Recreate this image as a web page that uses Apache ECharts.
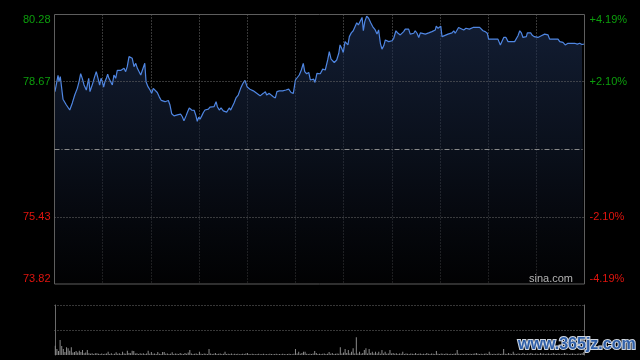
<!DOCTYPE html>
<html><head><meta charset="utf-8">
<style>html,body{margin:0;padding:0;background:#000;}#c{width:640px;height:360px;}</style>
<script src="https://cdn.jsdelivr.net/npm/echarts@6/dist/echarts.min.js"></script>
</head><body><div id="c"></div>
<script>
// ---- data ----
const prevClose = 77.05;
const priceMin = 73.82, priceMax = 80.28;
const priceTicks = [73.82, 75.43, 78.67, 80.28];
const pctMin = -4.19, pctMax = 4.19;
const pctTicks = [-4.19, -2.10, 2.10, 4.19];
const sessionMinutes = 330; // 09:30-12:00, 13:00-16:00

// minutes since open (compressed trading time)
const times = [
0.3,1.4,2.2,2.8,3.6,4.2,5.3,6.4,7.4,8.6,9.5,11.1,12.6,14.2,15.3,16.3,17.3,18.4,19.8,20.4,21.3,22.1,22.9,23.8,25.0,26.0,27.1,28.1,29.0,29.8,30.6,31.4,32.3,33.1,33.9,35.0,36.0,37.0,38.1,39.1,41.2,42.2,43.3,44.3,45.3,46.4,47.4,48.4,49.5,50.6,51.6,52.6,53.7,54.7,56.2,57.0,58.2,59.5,60.5,61.5,62.6,64.0,65.3,66.5,
67.7,68.8,69.9,70.9,71.9,73.0,74.4,75.5,77.1,78.6,79.6,80.6,81.9,82.9,83.9,85.4,87.0,88.1,88.9,89.8,90.6,91.7,92.7,93.7,94.8,95.8,96.8,97.9,99.3,100.6,101.4,102.6,103.7,105.1,106.2,107.2,108.2,108.8,109.7,110.7,111.8,113.0,114.4,115.9,117.2,118.6,119.2,120.0,121.7,123.8,125.9,128.0,129.2,130.0,131.3,132.1,
133.7,134.8,136.2,137.5,138.5,140.0,142.1,144.1,145.8,147.3,148.7,149.6,150.0,150.8,152.4,153.7,154.9,155.8,157.0,158.3,159.3,160.3,161.4,162.2,163.4,164.5,165.5,167.0,168.6,170.1,171.1,172.2,173.2,174.2,175.7,177.0,177.8,178.8,179.8,180.9,181.9,182.7,183.6,184.8,186.0,186.9,188.2,189.2,190.2,191.5,192.3,193.2,194.4,195.6,196.9,198.1,
199.7,200.8,201.8,202.9,203.9,205.0,206.0,207.0,208.1,209.1,210.1,211.2,212.6,213.9,215.3,216.4,217.4,218.4,219.5,220.5,221.5,222.6,223.7,224.6,225.7,226.8,227.8,228.8,230.9,233.0,235.0,236.1,237.1,237.7,238.8,239.6,240.5,241.3,242.3,245.0,247.5,248.6,249.5,250.6,251.6,252.7,254.8,256.2,257.3,258.3,259.3,260.6,261.6,263.1,
264.7,265.7,266.8,268.2,269.5,270.3,276.1,276.8,277.6,278.6,279.7,281.1,282.4,284.4,285.5,286.5,287.5,288.6,289.7,290.7,291.7,292.8,293.8,294.4,295.4,296.5,297.3,298.6,301.0,302.1,303.1,304.2,305.2,306.2,307.3,308.3,313.5,314.6,316.6,318.0,319.7,320.8,321.8,322.8,323.9,325.5,327.0,328.4,329.6
];
const prices = [
78.43,78.39,78.82,78.67,78.79,78.83,78.25,78.22,78.11,78.07,77.99,78.16,78.35,78.51,78.67,78.86,78.75,78.59,78.47,78.43,78.75,78.43,78.39,78.63,78.79,78.91,78.75,78.59,78.75,78.67,78.54,78.67,78.75,78.85,78.75,78.71,78.59,78.83,78.75,78.94,78.94,78.95,78.99,78.91,79.03,79.27,79.23,79.23,79.03,79.11,78.99,79.03,78.83,78.87,79.11,78.67,78.55,78.47,78.39,78.51,78.54,78.41,78.30,78.22,
78.25,78.19,78.23,78.22,78.11,77.90,77.85,77.89,77.88,77.89,77.83,77.73,77.85,77.95,78.04,77.99,77.98,77.85,77.72,77.82,77.77,77.85,77.93,77.99,78.01,78.01,78.06,78.07,78.07,78.19,78.07,77.99,78.04,77.97,77.94,77.94,77.95,78.04,77.99,78.01,78.16,78.28,78.35,78.51,78.62,78.70,78.67,78.54,78.49,78.45,78.39,78.33,78.30,78.39,78.43,78.35,
78.39,78.35,78.31,78.28,78.43,78.45,78.45,78.47,78.49,78.41,78.39,78.39,78.71,78.75,78.83,78.95,79.11,78.91,78.86,78.89,78.71,78.70,78.73,78.65,78.87,78.89,78.86,78.97,78.95,79.19,79.39,79.21,79.17,79.13,79.19,79.35,79.55,79.47,79.37,79.63,79.59,79.55,79.75,79.84,79.89,79.93,80.08,80.03,79.99,80.21,79.89,80.11,80.24,80.19,80.08,79.99,
79.91,79.81,79.91,79.59,79.45,79.53,79.67,79.69,79.63,79.59,79.65,79.71,79.89,79.83,79.79,79.75,79.87,79.93,79.89,79.93,79.81,79.79,79.83,79.89,79.83,79.73,79.84,79.81,79.81,79.84,79.87,79.89,79.91,80.00,79.95,79.99,80.00,79.75,79.79,79.81,79.84,79.89,79.83,79.87,79.97,79.95,79.91,79.95,79.99,79.93,79.91,79.97,79.95,79.97,
79.97,79.93,79.89,79.87,79.83,79.69,79.69,79.65,79.55,79.55,79.73,79.73,79.63,79.63,79.67,79.63,79.67,79.77,79.89,79.84,79.73,79.73,79.75,79.84,79.81,79.84,79.79,79.75,79.73,79.69,79.77,79.79,79.81,79.84,79.79,79.69,79.69,79.63,79.61,79.55,79.59,79.55,79.59,79.55,79.59,79.57,79.59,79.56,79.57
];
// per-minute volume (index = minute since open)
const volumes = [
93,60,40,150,90,60,30,77,67,43,
77,25,30,40,25,43,30,50,17,25,
50,17,12,17,10,17,17,12,10,15,
10,12,15,33,10,17,8,12,27,12,
17,10,33,15,12,43,20,17,43,40,
15,17,10,17,12,17,10,15,43,12,
30,12,15,10,30,12,10,30,30,12,
15,10,12,27,10,15,12,10,20,12,
10,20,12,25,50,15,10,12,15,10,
33,12,10,15,12,10,60,15,10,12,
20,10,12,15,10,12,33,10,12,10,
15,8,12,10,12,8,10,12,10,15,
20,10,8,12,10,8,10,12,8,10,
12,8,10,8,12,10,8,10,12,8,
10,8,12,10,8,10,12,10,8,12,
60,15,33,12,20,33,33,12,10,12,
10,15,40,20,10,12,10,12,15,10,
12,30,12,20,10,12,15,12,77,15,
25,60,20,50,15,33,67,15,177,15,
33,12,20,50,67,15,60,20,33,15,
33,15,33,12,50,15,33,12,15,50,
15,20,12,17,10,15,12,33,10,15,
12,10,15,12,10,20,10,12,15,10,
12,10,20,12,10,15,12,10,40,12,
10,15,12,10,15,12,10,12,10,12,
15,50,12,10,12,10,12,15,10,12,
10,12,15,20,12,10,12,10,12,15,
10,33,12,10,12,10,12,15,10,12,
60,12,10,20,12,10,33,12,10,15,
12,10,20,12,10,15,12,20,12,10,
15,12,10,20,12,15,10,12,15,10,
12,20,12,10,15,12,10,12,20,15,
12,10,12,15,12,10,12,15,12,20,
30
];
const volMax = 500;

// ---- chart ----
const FONT = 'Liberation Sans, Arial, sans-serif';
const GREEN = '#0c9e0c', RED = '#e0140e';
const dotted = [1, 2];
const priceData = times.map((t, i) => [t, prices[i]]);
const volData = volumes.map((v, i) => [i, v]);

const chart = echarts.init(document.getElementById('c'), null, {renderer: 'canvas'});
chart.setOption({
  backgroundColor: '#000',
  animation: false,
  grid: [
    {left: 54.5, top: 14.5, width: 530, height: 269.5, show: true, borderColor: '#5e5e5e', borderWidth: 1, backgroundColor: 'transparent', z: 4},
    {left: 54.5, top: 305, width: 530, height: 50}
  ],
  xAxis: [
    {type: 'value', gridIndex: 0, min: 0, max: sessionMinutes, interval: 30, z: 1,
     axisLine: {show: false}, axisTick: {show: false}, axisLabel: {show: false},
     splitLine: {show: true, showMinLine: false, showMaxLine: false, lineStyle: {color: '#6e6e6e', width: 1, type: dotted}}},
    {type: 'value', gridIndex: 1, min: -0.5, max: sessionMinutes + 0.5,
     axisLine: {show: false}, axisTick: {show: false}, axisLabel: {show: false}, splitLine: {show: false}}
  ],
  yAxis: [
    {type: 'value', gridIndex: 0, min: priceMin, max: priceMax, position: 'left',
     axisLine: {show: false}, axisTick: {show: false}, splitLine: {show: false},
     axisLabel: {show: true, customValues: priceTicks, margin: 4, fontSize: 11, fontFamily: FONT,
       verticalAlignMinLabel: 'bottom', verticalAlignMaxLabel: 'top',
       formatter: v => Number(v).toFixed(2),
       color: v => (Number(v) > prevClose ? GREEN : RED)}},
    {type: 'value', gridIndex: 0, min: pctMin, max: pctMax, position: 'right',
     axisLine: {show: false}, axisTick: {show: false}, splitLine: {show: false},
     axisLabel: {show: true, customValues: pctTicks, margin: 5, fontSize: 11, fontFamily: FONT,
       verticalAlignMinLabel: 'bottom', verticalAlignMaxLabel: 'top',
       formatter: v => (Number(v) > 0 ? '+' : '') + Number(v).toFixed(2) + '%',
       color: v => (Number(v) > 0 ? GREEN : RED)}},
    {type: 'value', gridIndex: 1, min: 0, max: volMax, interval: volMax / 2, position: 'left',
     axisLine: {show: true, lineStyle: {color: '#6a6a6a', width: 1}}, axisTick: {show: false}, axisLabel: {show: false},
     splitLine: {show: true, showMinLine: false, lineStyle: {color: '#6e6e6e', width: 1, type: dotted}}},
    {type: 'value', gridIndex: 1, min: 0, max: volMax, position: 'right',
     axisLine: {show: true, lineStyle: {color: '#6a6a6a', width: 1}}, axisTick: {show: false}, axisLabel: {show: false},
     splitLine: {show: false}}
  ],
  series: [
    {type: 'line', xAxisIndex: 0, yAxisIndex: 0, data: priceData, showSymbol: false, symbol: 'none',
     lineStyle: {color: '#4f86e2', width: 1.2}, z: 2,
     areaStyle: {origin: 'start', color: new echarts.graphic.LinearGradient(0, 0, 0, 1, [
       {offset: 0, color: 'rgba(30,48,84,0.88)'}, {offset: 0.5, color: 'rgba(18,28,48,0.8)'}, {offset: 1, color: 'rgba(3,3,5,0.7)'}])},
     markLine: {silent: true, symbol: 'none', animation: false, label: {show: false},
       data: [
         {yAxis: priceTicks[2], lineStyle: {color: '#6e6e6e', width: 1, type: dotted}},
         {yAxis: priceTicks[1], lineStyle: {color: '#6e6e6e', width: 1, type: dotted}},
         {yAxis: prevClose, lineStyle: {color: '#8a8a8a', width: 1, type: [5, 2, 1, 2]}}
       ]}},
    {type: 'bar', xAxisIndex: 1, yAxisIndex: 2, data: volData, barWidth: 1,
     itemStyle: {color: '#8a8a8a'}}
  ],
  graphic: [
    {type: 'text', right: 67, top: 273, silent: true, z: 100,
     style: {text: 'sina.com', fill: '#b4b4b4', font: '11px ' + FONT}},
    {type: 'text', left: 517, top: 336, silent: true, z: 100,
     style: {text: 'www.365jz.com', fill: '#2f5fa8', stroke: '#cfd6e0', lineWidth: 2, font: 'bold 16px ' + FONT}}
  ]
});
</script></body></html>
